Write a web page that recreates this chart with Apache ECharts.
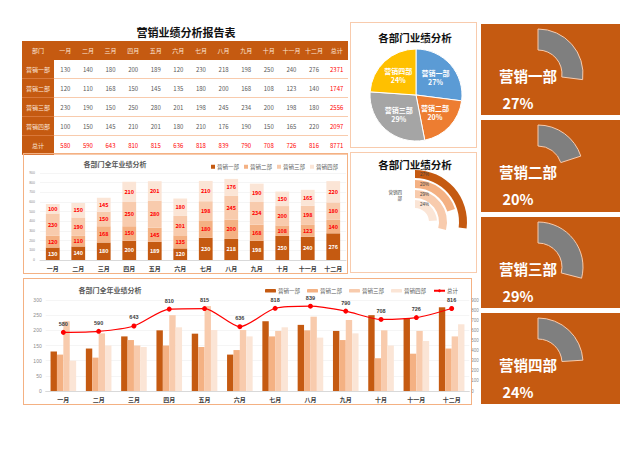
<!DOCTYPE html>
<html><head><meta charset="utf-8">
<script src="https://cdn.jsdelivr.net/npm/echarts@6/dist/echarts.min.js"></script>
<style>
html,body{margin:0;padding:0;background:#fff;}
body{width:640px;height:453px;position:relative;overflow:hidden;font-family:"Noto Sans CJK SC","Noto Sans",sans-serif;}
.abs{position:absolute;}
#mainTitle{left:100px;top:25px;width:172px;text-align:center;font-size:11px;font-weight:bold;color:#111;line-height:14px;}
#tbl{position:absolute;left:22px;top:41px;width:326px;border-collapse:collapse;table-layout:fixed;font-size:6px;}
#tbl td{padding:0;text-align:center;overflow:hidden;white-space:nowrap;}
#tbl tr.hd td{background:#c55a11;color:#fbe5d6;height:19px;}
#tbl tr.rw td{height:18px;color:#595959;background:#fff;border-bottom:1px solid #f8cbad;}
#tbl tr.rw td.lc{background:#c55a11;color:#fbe5d6;border-bottom:1px solid #d9783a;}
#tbl td.red{color:#ff0000 !important;}
.box{position:absolute;box-sizing:border-box;border:1px solid #f4b183;}
.rp{position:absolute;background:#c55a11;}
</style></head><body>
<div id="mainTitle" class="abs">营销业绩分析报告表</div>
<table id="tbl"></table>
<div class="box" style="left:23px;top:153px;width:325px;height:121px;"></div>
<div id="c1" class="abs" style="left:23px;top:153px;width:325px;height:121px;"></div>
<div class="box" style="left:23px;top:278px;width:449px;height:127px;"></div>
<div id="c2" class="abs" style="left:23px;top:278px;width:462px;height:128px;"></div>
<div class="box" style="left:350px;top:22px;width:127px;height:126px;border-color:#f8cbad;"></div>
<div id="c3" class="abs" style="left:350px;top:22px;width:127px;height:126px;"></div>
<div class="box" style="left:350px;top:152px;width:127px;height:121px;border-color:#f8cbad;"></div>
<div id="c4" class="abs" style="left:350px;top:152px;width:127px;height:121px;"></div>
<div id="r0" class="rp" style="left:481px;top:24px;width:139px;height:91px;"></div>
<div id="r1" class="rp" style="left:481px;top:120px;width:139px;height:92px;"></div>
<div id="r2" class="rp" style="left:481px;top:217px;width:139px;height:91px;"></div>
<div id="r3" class="rp" style="left:481px;top:313px;width:139px;height:91px;"></div>
<script>
// ---------- data ----------
const months = ['一月','二月','三月','四月','五月','六月','七月','八月','九月','十月','十一月','十二月'];
const depts = ['营销一部','营销二部','营销三部','营销四部'];
const dept1 = [130,140,180,200,189,120,230,218,198,250,240,276];
const dept2 = [120,110,168,150,145,135,180,200,168,108,123,140];
const dept3 = [230,190,150,250,280,201,198,245,234,200,198,180];
const dept4 = [100,150,145,210,201,180,210,176,190,150,165,220];
const monthTotals = [580,590,643,810,815,636,818,839,790,708,726,816];
const deptTotals = [2371,1747,2556,2097];
const grandTotal = 8771;
const deptPct = [27,20,29,24];
const totalLabel = '总计';
const headFirst = '部门';

const deptData = [dept1, dept2, dept3, dept4];
const barColors = ['#c55a11','#f4b183','#f8cbad','#fbe5d6'];
const pieColors = ['#5b9bd5','#ed7d31','#a5a5a5','#ffc000'];
const FONT = '"Noto Sans CJK SC","Noto Sans",sans-serif';

// ---------- table ----------
(function(){
  const t = document.getElementById('tbl');
  let html = '<colgroup><col style="width:32px">';
  for (let i=0;i<13;i++) html += '<col>';
  html += '</colgroup>';
  html += '<tr class="hd"><td>'+headFirst+'</td>' + months.map(m=>'<td>'+m+'</td>').join('') + '<td>'+totalLabel+'</td></tr>';
  depts.forEach((d,i)=>{
    html += '<tr class="rw"><td class="lc">'+d+'</td>' + deptData[i].map(v=>'<td>'+v+'</td>').join('') + '<td class="red">'+deptTotals[i]+'</td></tr>';
  });
  html += '<tr class="rw"><td class="lc">'+totalLabel+'</td>' + monthTotals.map(v=>'<td class="red">'+v+'</td>').join('') + '<td class="red">'+grandTotal+'</td></tr>';
  t.innerHTML = html;
})();

function txt(x,y,text,size,color,weight,align){
  return {type:'text', x:x, y:y, silent:true, z:100,
    style:{text:text, fill:color, font:(weight||'normal')+' '+size+'px '+FONT,
      align:align||'center', verticalAlign:'middle', textAlign:align||'center', textVerticalAlign:'middle'}};
}

// ---------- stacked chart ----------
const c1 = echarts.init(document.getElementById('c1'), null, {renderer:'svg'});
c1.setOption({
  animation:false,
  graphic:[txt(92,11,'各部门全年业绩分析',7,'#595959','bold')],
  legend:{right:5, top:6, itemWidth:4, itemHeight:4, itemGap:5, icon:'rect',
    textStyle:{fontSize:5.5,color:'#595959',fontFamily:FONT,padding:[0,0,0,-3]}, data:depts},
  grid:{left:17, right:2, top:20, bottom:14},
  xAxis:{type:'category', data:months, axisTick:{show:false},
    axisLine:{lineStyle:{color:'#d9d9d9'}},
    axisLabel:{fontSize:6, fontWeight:'bold', color:'#404040', margin:5, fontFamily:FONT}},
  yAxis:{type:'value', min:0, max:900, interval:100,
    axisLabel:{fontSize:3.5, color:'#8c8c8c', margin:5},
    splitLine:{lineStyle:{color:'#eeeeee', width:0.6}}},
  series: depts.map((d,i)=>({
    name:d, type:'bar', stack:'all', data:deptData[i], barWidth:'54%',
    itemStyle:{color:barColors[i]},
    label:{show:true, position:'inside', fontSize:5.5, fontWeight:'bold',
      color: i===0 ? '#ffffff' : '#ff0000', fontFamily:FONT}
  }))
});

// ---------- combo chart ----------
const c2 = echarts.init(document.getElementById('c2'), null, {renderer:'svg'});
c2.setOption({
  animation:false,
  graphic:[txt(87,12,'各部门全年业绩分析',7,'#595959','bold')],
  legend:{right:22, top:5, itemWidth:11, itemHeight:3.5, itemGap:7,
    textStyle:{fontSize:5.5,color:'#595959',fontFamily:FONT,padding:[0,0,0,-3]},
    data:[depts[0],depts[1],depts[2],depts[3],{name:totalLabel}]},
  grid:{left:22.7, top:22, width:423.6, height:91},
  xAxis:{type:'category', data:months, axisTick:{show:false},
    axisLine:{lineStyle:{color:'#d9d9d9'}},
    axisLabel:{fontSize:6, fontWeight:'bold', color:'#404040', margin:5, fontFamily:FONT}},
  yAxis:[
    {type:'value', min:0, max:300, interval:50,
      axisLabel:{fontSize:5, color:'#8c8c8c', margin:4},
      splitLine:{lineStyle:{color:'#eeeeee', width:0.6}}},
    {type:'value', min:0, max:900, interval:100, position:'right',
      axisLabel:{fontSize:4.5, color:'#8c8c8c', margin:2},
      splitLine:{show:false}, axisLine:{show:false}}
  ],
  series: depts.map((d,i)=>({
    name:d, type:'bar', data:deptData[i], barWidth:6.4, barGap:'0%',
    itemStyle:{color:barColors[i]}
  })).concat([{
    name:totalLabel, type:'line', yAxisIndex:1, data:monthTotals, smooth:0.25,
    symbol:'circle', symbolSize:5, z:10,
    lineStyle:{color:'#ff0000', width:1.2}, itemStyle:{color:'#ff0000'},
    label:{show:true, position:'top', distance:3, fontSize:5.5, fontWeight:'bold', color:'#404040'}
  }])
});

// ---------- pie ----------
const c3 = echarts.init(document.getElementById('c3'), null, {renderer:'svg'});
c3.setOption({
  animation:false,
  graphic:[txt(65,15,'各部门业绩分析',10.5,'#111111','bold')],
  series:[{
    type:'pie', center:[66,73], radius:[0,46], startAngle:90, clockwise:true,
    data: depts.map((d,i)=>({name:d, value:deptTotals[i], itemStyle:{color:pieColors[i]}})),
    itemStyle:{borderColor:'#ffffff', borderWidth:1},
    label:{show:true, position:'inside', fontSize:7, fontWeight:'bold', color:'#ffffff', lineHeight:9,
      fontFamily:FONT, formatter:p=>p.name+'\n'+deptPct[p.dataIndex]+'%'},
    labelLine:{show:false}
  }]
});

// ---------- radial ----------
const c4 = echarts.init(document.getElementById('c4'), null, {renderer:'svg'});
const ringOrder = [3,2,1,0];
c4.setOption({
  animation:false,
  graphic:[txt(65,12.5,'各部门业绩分析',10.5,'#111111','bold'),
    {type:'text', x:52, y:43, silent:true, style:{text:'营销四\n部', fill:'#404040', font:'normal 4.5px '+FONT, lineHeight:6, align:'right', textAlign:'right', verticalAlign:'middle', textVerticalAlign:'middle'}}],
  polar:{center:[65,70], radius:[13,53]},
  angleAxis:{max:100, startAngle:90, clockwise:true, show:false},
  radiusAxis:{type:'category', data:ringOrder.map(i=>depts[i]), show:false},
  series:[{
    type:'bar', coordinateSystem:'polar', barCategoryGap:'20%',
    data: ringOrder.map(i=>({value:deptPct[i], itemStyle:{color:barColors[i]}})),
    label:{show:true, position:'insideStart', fontSize:4.5, color:'#404040', formatter:'{c}%'}
  }]
});

// ---------- right panels ----------
depts.forEach((d,i)=>{
  const ch = echarts.init(document.getElementById('r'+i), null, {renderer:'svg'});
  ch.setOption({
    animation:false,
    graphic:[txt(47,51,d,14.5,'#ffffff','bold'), txt(37,78,deptPct[i]+'%',14.5,'#ffffff','bold')],
    series:[{
      type:'pie', silent:true, center:[57,50], radius:[24,45], startAngle:90, clockwise:true,
      label:{show:false}, labelLine:{show:false},
      data:[{value:deptPct[i], itemStyle:{color:'#7f7f7f', borderColor:'#f8cbad', borderWidth:1}},
            {value:100-deptPct[i], itemStyle:{color:'rgba(0,0,0,0)'}}]
    }]
  });
});
</script>
</body></html>
